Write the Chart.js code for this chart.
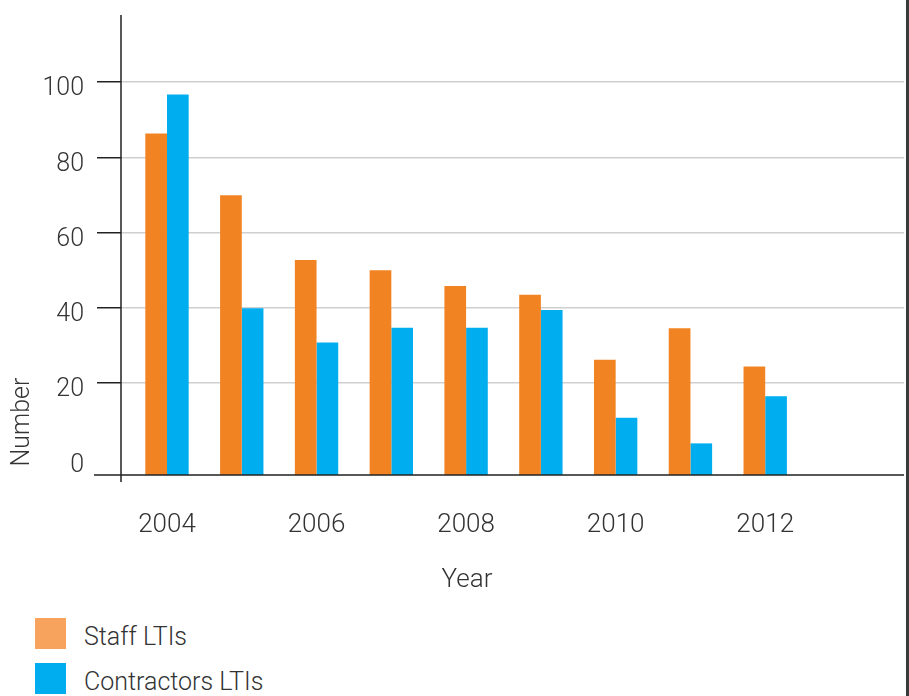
<!DOCTYPE html>
<html>
<head>
<meta charset="utf-8">
<script src="https://cdn.jsdelivr.net/npm/chart.js@4.4.1/dist/chart.umd.min.js"></script>
<style>
  html, body { margin: 0; padding: 0; background: #fff; }
  #wrap { position: relative; width: 909px; height: 696px; box-sizing: border-box; border-right: 3px solid #3a3a3a; overflow: hidden; }
  #lti_chart { position: absolute; left: 0; top: 0; }
  .legend { position: absolute; left: 35px; font-family: Roboto, "Liberation Sans", sans-serif; font-weight: 300; font-size: 25px; color: #333; }
  .legend div { position: absolute; left: 0; height: 31px; white-space: nowrap; }
  .legend span.box { position: absolute; left: 0; top: 0; width: 31px; height: 31px; }
  .legend span.txt { position: absolute; left: 49px; top: 3px; line-height: 31px; }
</style>
</head>
<body>
<div id="wrap">
  <canvas id="lti_chart" width="906" height="600"></canvas>
  <div class="legend" style="top:618px" id="legend"></div>
</div>
<script>
const years = [2004, 2005, 2006, 2007, 2008, 2009, 2010, 2011, 2012];
const staffLTIs = [86.3, 69.9, 52.7, 50.0, 45.8, 43.5, 26.2, 34.6, 24.4];
const contractorLTIs = [96.7, 39.9, 30.8, 34.7, 34.7, 39.4, 10.8, 4.0, 16.5];
const yTicks = [0, 20, 40, 60, 80, 100];
const seriesNames = ['Staff LTIs', 'Contractors LTIs'];
const barColors = ['#F28322', '#00AEEF'];
const legendColors = ['#F7A35D', '#00AEEF'];

const FONT = 'Roboto, "Liberation Sans", sans-serif';

// axis lines + axis titles
const axisDecor = {
  id: 'axisDecor',
  afterDraw(chart) {
    const { ctx, chartArea } = chart;
    ctx.save();
    ctx.strokeStyle = '#222';
    ctx.lineWidth = 1.5;
    ctx.beginPath();
    ctx.moveTo(chartArea.left, chartArea.top);
    ctx.lineTo(chartArea.left, chartArea.bottom + 7);
    ctx.moveTo(chartArea.left - 27, chartArea.bottom);
    ctx.lineTo(chartArea.right, chartArea.bottom);
    ctx.stroke();

    ctx.fillStyle = '#333';
    ctx.font = '300 26px ' + FONT;
    ctx.textAlign = 'center';
    ctx.textBaseline = 'middle';
    ctx.fillText('Year', 467, chartArea.bottom + 105);

    ctx.font = '300 25px ' + FONT;
    ctx.translate(23, chartArea.bottom - 53);
    ctx.rotate(-Math.PI / 2);
    ctx.fillText('Number', 0, 0);
    ctx.restore();
  }
};

const chart = new Chart('lti_chart', {
  type: 'bar',
  data: {
    datasets: [
      {
        label: seriesNames[0],
        data: years.map((y, i) => ({ x: y, y: staffLTIs[i] })),
        backgroundColor: barColors[0],
        base: -4.4,
        categoryPercentage: 0.58,
        barPercentage: 1.0,
      },
      {
        label: seriesNames[1],
        data: years.map((y, i) => ({ x: y, y: contractorLTIs[i] })),
        backgroundColor: barColors[1],
        base: -4.4,
        categoryPercentage: 0.58,
        barPercentage: 1.0,
      },
    ],
  },
  options: {
    responsive: false,
    animation: false,
    layout: { padding: { top: 15, right: 2, left: 0, bottom: 0 } },
    plugins: {
      legend: { display: false },
      tooltip: { enabled: false },
    },
    scales: {
      x: {
        type: 'linear',
        offset: false,
        min: 2003.385,
        max: 2013.856,
        grid: { display: false, drawTicks: false },
        border: { display: false },
        ticks: {
          stepSize: 2,
          includeBounds: false,
          padding: 35,
          color: '#333',
          font: { family: FONT, size: 26, weight: 300 },
          callback: v => String(v),
        },
        afterFit: s => { s.height = 125; },
      },
      y: {
        min: -4.4,
        max: 117.8,
        border: { display: false },
        afterBuildTicks: s => { s.ticks = yTicks.map(v => ({ value: v })); },
        grid: {
          color: c => (c.tick && c.tick.value === 0 ? 'rgba(0,0,0,0)' : '#cfcfcf'),
          tickColor: c => (c.tick && c.tick.value === 0 ? 'rgba(0,0,0,0)' : '#222'),
          lineWidth: 1.5,
          tickLength: 24,
        },
        ticks: {
          padding: 13,
          labelOffset: 7,
          color: '#333',
          font: { family: FONT, size: 25, weight: 300 },
        },
        afterFit: s => {
          s.width = 121;
          s.paddingTop = 0;
          s.paddingBottom = 0;
        },
      },
    },
  },
  plugins: [axisDecor],
});

// legend as html, stacked like the original
const legendEl = document.getElementById('legend');
seriesNames.forEach((name, i) => {
  const row = document.createElement('div');
  row.style.top = (i * 45) + 'px';
  row.innerHTML = '<span class="box" style="background:' + legendColors[i] + '"></span><span class="txt">' + name + '</span>';
  legendEl.appendChild(row);
});
</script>
</body>
</html>
